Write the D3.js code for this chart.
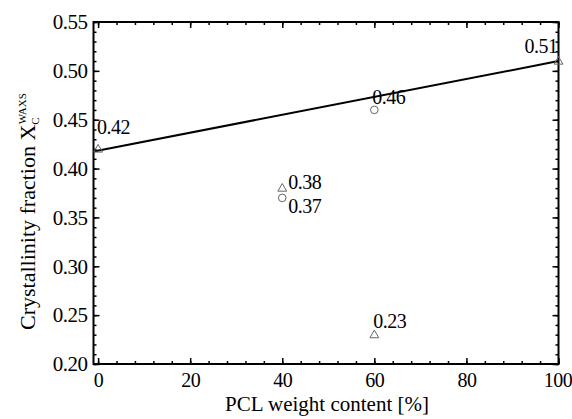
<!DOCTYPE html>
<html><head><meta charset="utf-8">
<script src="https://cdn.jsdelivr.net/npm/d3@7"></script>
<style>body{margin:0;background:#fff}svg{display:block}</style>
</head><body>
<svg id="c" width="572" height="419" font-family="Liberation Serif"></svg>
<script>
// data
const xTicks = [0, 20, 40, 60, 80, 100];
const yTicks = [0.20, 0.25, 0.30, 0.35, 0.40, 0.45, 0.50, 0.55];
const triX = [0, 40, 60, 100];
const triY = [0.42, 0.38, 0.23, 0.51];
const circX = [40, 60];
const circY = [0.37, 0.46];
const labelText = ["0.42", "0.38", "0.37", "0.46", "0.23", "0.51"];
const labelX = [0, 40, 40, 60, 60, 100];
const labelY = [0.42, 0.38, 0.37, 0.46, 0.23, 0.51];
const fitX = [-1, 100];
const fitY = [0.4175, 0.51];

const FONT = "Liberation Serif";
const svg = d3.select("#c");
const L = 93.5, R = 558.5, T = 22, B = 364;
const x = d3.scaleLinear().domain([-1, 100]).range([L, R]);
const y = d3.scaleLinear().domain([0.20, 0.55]).range([B, T]);

const xMinor = d3.range(0, 101, 4);
const yMinor = d3.range(20, 56, 1).map(v => v / 100);

const g = svg.append("g");
function styleAxis(sel){ sel.attr("font-family", FONT); sel.select(".domain").remove(); sel.selectAll("line").attr("stroke","#000").attr("stroke-width",1.5); }
// bottom
g.append("g").attr("transform",`translate(0,${B})`).call(d3.axisBottom(x).tickValues(xMinor).tickSize(-3).tickFormat("")).call(styleAxis);
g.append("g").attr("transform",`translate(0,${B})`).call(d3.axisBottom(x).tickValues(xTicks).tickSize(-6).tickPadding(9).tickFormat(d3.format("d"))).call(styleAxis)
  .selectAll("text").attr("font-size",20).attr("dy","0.71em").attr("font-family",FONT).attr("letter-spacing",-0.5)
  .attr("dx", d => d === 100 ? -1 : 0);
// top
g.append("g").attr("transform",`translate(0,${T})`).call(d3.axisTop(x).tickValues(xMinor).tickSize(-3).tickFormat("")).call(styleAxis);
g.append("g").attr("transform",`translate(0,${T})`).call(d3.axisTop(x).tickValues(xTicks).tickSize(-6).tickFormat("")).call(styleAxis);
// left
g.append("g").attr("transform",`translate(${L},0)`).call(d3.axisLeft(y).tickValues(yMinor).tickSize(-3).tickFormat("")).call(styleAxis);
g.append("g").attr("transform",`translate(${L},0)`).call(d3.axisLeft(y).tickValues(yTicks).tickSize(-6).tickPadding(6).tickFormat(d3.format(".2f"))).call(styleAxis)
  .selectAll("text").attr("font-size",21).attr("font-family",FONT).attr("letter-spacing",-0.5);
// right
g.append("g").attr("transform",`translate(${R},0)`).call(d3.axisRight(y).tickValues(yMinor).tickSize(-3).tickFormat("")).call(styleAxis);
g.append("g").attr("transform",`translate(${R},0)`).call(d3.axisRight(y).tickValues(yTicks).tickSize(-6).tickFormat("")).call(styleAxis);

// frame
svg.append("rect").attr("x",L).attr("y",T).attr("width",R-L).attr("height",B-T)
  .attr("fill","none").attr("stroke","#000").attr("stroke-width",2);

// fit line
svg.append("path").datum(fitX.map((v,i)=>[v,fitY[i]]))
  .attr("d", d3.line().x(d=>x(d[0])).y(d=>y(d[1])))
  .attr("fill","none").attr("stroke","#000").attr("stroke-width",2);

// markers
const tri = d3.symbol().type(d3.symbolTriangle).size(34);
svg.selectAll(".tri").data(triX.map((v,i)=>[v,triY[i]])).join("path")
  .attr("transform", d=>`translate(${x(d[0])},${y(d[1])+0.5})`).attr("d", tri)
  .attr("fill","none").attr("stroke","#666").attr("stroke-width",1);
svg.selectAll(".circ").data(circX.map((v,i)=>[v,circY[i]])).join("circle")
  .attr("cx", d=>x(d[0])).attr("cy", d=>y(d[1])).attr("r",3.8)
  .attr("fill","none").attr("stroke","#666").attr("stroke-width",1);

// labels
const offs = [[-1,-15,"start"],[6,1,"start"],[6,15,"start"],[-2,-6,"start"],[-1,-7,"start"],[-1,-8,"end"]];
svg.selectAll(".lab").data(labelText).join("text")
  .attr("x",(d,i)=>x(labelX[i])+offs[i][0]).attr("y",(d,i)=>y(labelY[i])+offs[i][1])
  .attr("text-anchor",(d,i)=>offs[i][2]).attr("font-size",20).attr("letter-spacing",-0.5).attr("font-family",FONT).text(d=>d);

// axis titles
svg.append("text").attr("x",(L+R)/2 + 1).attr("y",411).attr("text-anchor","middle").attr("font-size",21).attr("font-family",FONT).text("PCL weight content [%]");
const yt = svg.append("text").attr("transform","translate(35,330) rotate(-90)").attr("text-anchor","start").attr("font-size",22).attr("font-family",FONT);
yt.append("tspan").text("Crystallinity fraction X");
yt.append("tspan").attr("font-size",11).attr("dy",4).text("C");
yt.append("tspan").attr("font-size",11).attr("dx",-7).attr("dy",-13).text("WAXS");
</script>
</body></html>
